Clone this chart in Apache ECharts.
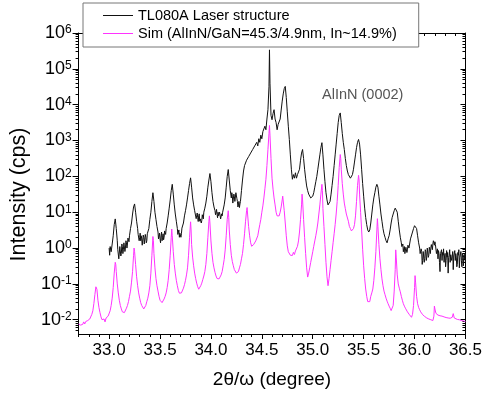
<!DOCTYPE html>
<html>
<head>
<meta charset="utf-8">
<script src="https://cdn.jsdelivr.net/npm/echarts@6/dist/echarts.min.js"></script>
<style>
  html, body { margin: 0; padding: 0; background: #fff; }
  #chart { width: 485px; height: 395px; }
</style>
</head>
<body>
<div id="chart"></div>
<script>
const FONT = 'Arial, "Liberation Sans", sans-serif';

const seriesNames = ['TL080A Laser structure', 'Sim (AlInN/GaN=45.3/4.9nm, In~14.9%)'];
const peakLabel = 'AlInN (0002)';
const xTitle = '2\u03b8/\u03c9 (degree)';
const yTitle = 'Intensity (cps)';

// x axis: 2θ/ω range and labelled ticks
const xRange = [32.7, 36.5];
const xMajorTicks = [33.0, 33.5, 34.0, 34.5, 35.0, 35.5, 36.0, 36.5];
// y axis: intensity range, decades and in-between log ticks
const yRange = [0.004, 1e6];
const yDecades = [0.01, 0.1, 1, 10, 100, 1000, 10000, 100000, 1000000];
const yMinorTicks = [
  0.005, 0.006, 0.007, 0.008, 0.009,
  0.02, 0.03, 0.04, 0.05, 0.06, 0.07, 0.08, 0.09,
  0.2, 0.3, 0.4, 0.5, 0.6, 0.7, 0.8, 0.9,
  2, 3, 4, 5, 6, 7, 8, 9,
  20, 30, 40, 50, 60, 70, 80, 90,
  200, 300, 400, 500, 600, 700, 800, 900,
  2000, 3000, 4000, 5000, 6000, 7000, 8000, 9000,
  20000, 30000, 40000, 50000, 60000, 70000, 80000, 90000,
  200000, 300000, 400000, 500000, 600000, 700000, 800000, 900000
];

// measured scan: [2θ/ω (deg), intensity (cps)]
const measured = [
  [33.00,1.0],[33.005,0.63],[33.01,1.1],[33.02,0.79],[33.03,1.3],[33.04,2.2],[33.05,4.5],[33.06,6.5],
  [33.07,3.5],[33.08,1.6],[33.085,0.9],[33.09,0.89],[33.095,0.5],[33.10,0.56],[33.105,1.1],[33.11,1.0],
  [33.115,0.6],[33.12,0.71],[33.125,1.3],[33.13,1.1],[33.135,0.7],[33.14,0.89],[33.145,1.4],[33.15,1.3],
  [33.155,0.8],[33.16,1.0],[33.165,1.6],[33.17,1.4],[33.175,1.0],[33.18,1.3],[33.185,1.9],[33.19,2.0],
  [33.195,1.5],[33.20,2.2],[33.21,3.5],[33.22,5.0],[33.23,8.9],[33.24,14],[33.25,17],[33.26,10],
  [33.27,5.6],[33.28,3.5],[33.285,2.4],[33.29,2.5],[33.295,1.6],[33.30,2.0],[33.305,2.6],[33.31,1.6],
  [33.315,2.2],[33.32,1.8],[33.325,1.2],[33.33,1.3],[33.335,2.3],[33.34,2.0],[33.345,1.3],[33.35,1.4],
  [33.355,2.4],[33.36,2.0],[33.365,1.4],[33.37,1.6],[33.375,2.5],[33.38,2.8],[33.39,3.5],[33.40,6.3],
  [33.41,10],[33.42,20],[33.43,35],[33.44,20],[33.45,10],[33.46,6.3],[33.47,4.0],[33.48,2.8],
  [33.485,1.8],[33.49,2.0],[33.495,2.6],[33.50,1.8],[33.505,1.4],[33.51,2.2],[33.515,2.8],[33.52,1.6],
  [33.525,2.0],[33.53,2.5],[33.535,1.7],[33.54,2.0],[33.545,3.0],[33.55,3.2],[33.555,2.4],[33.56,3.5],
  [33.57,5.0],[33.58,7.9],[33.59,13],[33.60,22],[33.61,40],[33.62,60],[33.63,32],[33.64,16],
  [33.65,8.9],[33.66,5.6],[33.67,3.5],[33.675,2.4],[33.68,2.5],[33.685,3.2],[33.69,2.0],[33.695,2.6],
  [33.70,2.8],[33.705,2.0],[33.71,2.5],[33.715,3.6],[33.72,4.0],[33.725,3.2],[33.73,5.0],[33.74,7.9],
  [33.75,11],[33.76,16],[33.77,25],[33.78,40],[33.79,63],[33.80,91],[33.81,50],[33.82,25],
  [33.83,16],[33.84,11],[33.85,10],[33.855,6.6],[33.86,7.9],[33.865,9.5],[33.87,7.1],[33.875,5.5],
  [33.88,7.9],[33.885,9.0],[33.89,5.6],[33.895,6.5],[33.90,7.1],[33.905,5.0],[33.91,5.8],[33.915,8.5],
  [33.92,7.9],[33.925,6.5],[33.93,10],[33.94,13],[33.95,18],[33.96,28],[33.97,50],[33.98,79],
  [33.99,120],[34.00,71],[34.01,35],[34.02,20],[34.03,14],[34.04,11],[34.045,8.5],[34.05,10],
  [34.055,12],[34.06,8.7],[34.065,7.0],[34.07,10],[34.075,8.0],[34.08,7.6],[34.085,10],[34.09,8.9],
  [34.095,6.5],[34.10,7.1],[34.105,9.0],[34.11,7.9],[34.115,10],[34.12,11],[34.13,16],[34.14,25],
  [34.15,50],[34.16,100],[34.17,155],[34.18,79],[34.19,40],[34.20,25],[34.205,35],[34.21,28],
  [34.215,18],[34.22,20],[34.225,32],[34.23,28],[34.235,20],[34.24,22],[34.245,35],[34.25,32],
  [34.255,24],[34.26,20],[34.265,14],[34.27,16],[34.275,20],[34.28,13.5],[34.285,17],[34.29,20],
  [34.30,40],[34.31,79],[34.32,141],[34.33,200],[34.34,178],[34.35,282],[34.36,251],[34.37,355],
  [34.38,316],[34.39,447],[34.40,398],[34.41,562],[34.42,501],[34.43,708],[34.44,631],[34.45,891],
  [34.46,708],[34.47,1122],[34.48,891],[34.49,1413],[34.50,1122],[34.51,1778],[34.52,1585],[34.53,2512],
  [34.54,1995],[34.55,3981],[34.56,7244],[34.57,31623],[34.575,338844],[34.58,39811],[34.59,5012],[34.60,3802],
  [34.61,5623],[34.62,7244],[34.63,3981],[34.64,3162],[34.65,1995],[34.66,2818],[34.67,2512],[34.68,3981],
  [34.69,7079],[34.70,12589],[34.71,19953],[34.72,28184],[34.73,32359],[34.74,15849],[34.75,6310],[34.76,2512],
  [34.77,1072],[34.78,398],[34.79,158],[34.80,83],[34.81,112],[34.82,89],[34.83,126],[34.84,89],
  [34.85,112],[34.86,100],[34.87,158],[34.88,282],[34.89,447],[34.90,562],[34.91,316],[34.92,158],
  [34.93,89],[34.94,54],[34.95,40],[34.96,32],[34.97,35],[34.98,25],[34.99,23],[35.00,28],
  [35.01,35],[35.02,50],[35.03,71],[35.04,100],[35.05,158],[35.06,251],[35.07,398],[35.08,631],
  [35.09,871],[35.10,398],[35.11,158],[35.12,71],[35.13,35],[35.14,22],[35.15,16],[35.16,15],
  [35.17,20],[35.18,32],[35.19,56],[35.20,100],[35.21,200],[35.22,398],[35.23,794],[35.24,1585],
  [35.25,3162],[35.26,5012],[35.27,5888],[35.28,3162],[35.29,1585],[35.30,891],[35.31,562],[35.32,316],
  [35.33,200],[35.34,141],[35.35,112],[35.36,100],[35.37,89],[35.38,91],[35.39,112],[35.40,158],
  [35.41,251],[35.42,398],[35.43,631],[35.44,891],[35.45,1072],[35.46,794],[35.47,398],[35.48,158],
  [35.49,63],[35.50,28],[35.51,13],[35.52,7.1],[35.53,4.5],[35.54,3.2],[35.55,2.8],[35.56,3.2],
  [35.57,5.0],[35.58,8.9],[35.59,16],[35.60,25],[35.61,35],[35.62,50],[35.63,60],[35.64,50],
  [35.65,28],[35.66,16],[35.67,8.9],[35.68,5.6],[35.69,3.5],[35.70,2.5],[35.71,2.0],[35.72,1.6],
  [35.73,1.4],[35.74,1.8],[35.75,2.2],[35.76,3.2],[35.77,5.0],[35.78,7.1],[35.79,8.9],[35.80,11],
  [35.81,13],[35.82,13.5],[35.83,10],[35.84,5.6],[35.85,3.2],[35.86,2.0],[35.87,1.4],[35.875,1.1],
  [35.88,1.0],[35.885,1.3],[35.89,0.79],[35.895,0.95],[35.90,1.1],[35.905,0.7],[35.91,0.71],[35.915,1.05],
  [35.92,1.0],[35.925,0.75],[35.93,0.89],[35.935,1.2],[35.94,1.3],[35.945,1.0],[35.95,1.1],[35.96,1.8],
  [35.97,2.0],[35.98,2.8],[35.99,3.5],[36.00,4.2],[36.01,4.7],[36.02,3.5],[36.03,2.2],[36.04,1.4],
  [36.05,1.0],[36.055,0.7],[36.06,0.63],[36.065,0.95],[36.07,0.79],[36.075,0.35],[36.08,0.45],[36.085,0.8],
  [36.09,0.71],[36.095,0.4],[36.10,0.5],[36.105,0.9],[36.11,0.79],[36.115,0.45],[36.12,0.56],[36.125,1.0],
  [36.13,0.89],[36.135,0.55],[36.14,0.63],[36.145,1.05],[36.15,0.89],[36.155,0.7],[36.16,1.0],[36.165,1.25],
  [36.17,1.1],[36.175,0.9],[36.18,1.3],[36.185,1.6],[36.19,1.4],[36.195,1.2],[36.20,1.5],[36.205,1.25],
  [36.21,1.1],[36.215,0.7],[36.22,0.79],[36.225,0.95],[36.23,0.5],[36.235,0.85],[36.24,0.71],[36.245,0.4],
  [36.25,0.22],[36.255,0.7],[36.26,0.63],[36.265,0.9],[36.27,0.45],[36.275,0.75],[36.28,0.63],[36.285,0.95],
  [36.29,0.4],[36.295,0.6],[36.30,0.71],[36.305,0.3],[36.31,0.45],[36.315,0.85],[36.32,0.56],[36.325,0.75],
  [36.33,0.2],[36.335,0.55],[36.34,0.63],[36.345,0.9],[36.35,0.4],[36.355,0.65],[36.36,0.71],[36.365,0.45],
  [36.37,0.5],[36.375,0.8],[36.38,0.25],[36.385,0.6],[36.39,0.63],[36.395,0.85],[36.40,0.45],[36.405,0.7],
  [36.41,0.56],[36.415,0.3],[36.42,0.35],[36.425,0.75],[36.43,0.63],[36.435,0.9],[36.44,0.28],[36.445,0.55],
  [36.45,0.5],[36.455,0.8],[36.46,0.45],[36.465,0.3],[36.47,0.71],[36.475,0.55],[36.48,0.32],[36.485,0.65],
  [36.49,0.5],[36.495,0.7],[36.50,0.4]
];

// simulated profile: [2θ/ω (deg), intensity (cps)]
const simulated = [
  [32.70,0.0076],[32.71,0.0083],[32.72,0.0071],[32.73,0.0079],[32.74,0.0074],[32.75,0.0087],[32.76,0.0076],[32.77,0.0089],
  [32.78,0.0079],[32.79,0.0095],[32.80,0.0085],[32.81,0.0105],[32.82,0.0112],[32.83,0.0141],[32.84,0.0178],[32.85,0.0282],
  [32.86,0.050],[32.87,0.083],[32.875,0.089],[32.88,0.071],[32.89,0.035],[32.90,0.022],[32.91,0.0158],[32.92,0.012],
  [32.93,0.010],[32.94,0.0089],[32.95,0.0105],[32.96,0.0087],[32.97,0.0112],[32.98,0.010],[32.99,0.0126],[33.00,0.0141],
  [33.01,0.0178],[33.02,0.025],[33.03,0.040],[33.04,0.079],[33.05,0.20],[33.06,0.40],[33.065,0.35],[33.07,0.22],
  [33.08,0.10],[33.09,0.056],[33.10,0.035],[33.11,0.025],[33.12,0.020],[33.13,0.0166],[33.14,0.0148],[33.15,0.0158],
  [33.16,0.0178],[33.17,0.021],[33.18,0.025],[33.19,0.032],[33.20,0.045],[33.21,0.063],[33.22,0.112],[33.23,0.22],
  [33.24,0.63],[33.245,1.0],[33.25,0.79],[33.26,0.35],[33.27,0.158],[33.28,0.089],[33.29,0.056],[33.30,0.040],
  [33.31,0.030],[33.32,0.025],[33.33,0.022],[33.34,0.020],[33.35,0.022],[33.36,0.025],[33.37,0.032],[33.38,0.040],
  [33.39,0.056],[33.40,0.089],[33.41,0.20],[33.42,0.63],[33.43,2.1],[33.435,1.6],[33.44,0.71],[33.45,0.28],
  [33.46,0.141],[33.47,0.089],[33.48,0.063],[33.49,0.045],[33.50,0.035],[33.51,0.032],[33.52,0.030],[33.53,0.033],
  [33.54,0.038],[33.55,0.045],[33.56,0.056],[33.57,0.079],[33.58,0.126],[33.59,0.25],[33.60,0.63],[33.61,2.0],
  [33.615,3.4],[33.62,2.2],[33.63,0.79],[33.64,0.35],[33.65,0.20],[33.66,0.126],[33.67,0.089],[33.68,0.066],
  [33.69,0.055],[33.70,0.050],[33.71,0.056],[33.72,0.063],[33.73,0.076],[33.74,0.095],[33.75,0.126],[33.76,0.178],
  [33.77,0.28],[33.78,0.63],[33.79,2.0],[33.80,5.4],[33.805,3.2],[33.81,1.26],[33.82,0.56],[33.83,0.32],
  [33.84,0.20],[33.85,0.141],[33.86,0.105],[33.87,0.083],[33.88,0.071],[33.89,0.079],[33.90,0.089],[33.91,0.105],
  [33.92,0.132],[33.93,0.166],[33.94,0.22],[33.95,0.35],[33.96,0.71],[33.97,2.0],[33.98,5.6],[33.985,7.9],
  [33.99,5.0],[34.00,1.58],[34.01,0.71],[34.02,0.40],[34.03,0.28],[34.04,0.21],[34.05,0.166],[34.06,0.141],
  [34.07,0.126],[34.08,0.138],[34.09,0.151],[34.10,0.178],[34.11,0.22],[34.12,0.32],[34.13,0.48],[34.14,0.89],
  [34.15,2.2],[34.16,6.3],[34.17,11],[34.175,7.1],[34.18,3.2],[34.19,1.26],[34.20,0.63],[34.21,0.42],
  [34.22,0.32],[34.23,0.25],[34.24,0.22],[34.25,0.20],[34.26,0.19],[34.27,0.22],[34.28,0.28],[34.29,0.35],
  [34.30,0.50],[34.31,0.71],[34.32,1.26],[34.33,2.5],[34.34,5.6],[34.35,11],[34.355,13.5],[34.36,8.9],
  [34.37,4.0],[34.38,2.2],[34.39,1.4],[34.40,1.12],[34.41,1.0],[34.42,1.26],[34.43,1.12],[34.44,1.58],
  [34.45,1.78],[34.46,2.2],[34.47,3.2],[34.48,4.5],[34.49,6.3],[34.50,10],[34.51,15],[34.52,25],
  [34.53,45],[34.54,83],[34.55,200],[34.56,562],[34.57,1585],[34.575,2630],[34.58,1413],[34.59,316],
  [34.60,89],[34.61,44],[34.62,25],[34.63,16],[34.64,10],[34.65,7.9],[34.66,7.1],[34.67,7.9],
  [34.68,10],[34.69,14],[34.70,22],[34.705,28],[34.71,25],[34.72,11],[34.73,5.0],[34.74,2.2],
  [34.75,1.15],[34.76,0.79],[34.77,0.71],[34.78,0.63],[34.79,0.71],[34.80,0.62],[34.81,0.76],[34.82,0.66],
  [34.83,0.83],[34.84,0.89],[34.85,1.12],[34.86,1.58],[34.87,2.8],[34.88,6.3],[34.89,16],[34.895,32],
  [34.90,22],[34.91,6.3],[34.92,2.0],[34.93,0.71],[34.94,0.28],[34.95,0.155],[34.96,0.20],[34.97,0.28],
  [34.98,0.40],[34.99,0.56],[35.00,0.79],[35.01,1.12],[35.02,1.58],[35.03,2.2],[35.04,3.2],[35.05,5.0],
  [35.06,8.9],[35.07,16],[35.08,32],[35.09,60],[35.095,40],[35.10,12.6],[35.11,4.0],[35.12,1.26],
  [35.13,0.40],[35.14,0.158],[35.15,0.089],[35.16,0.141],[35.17,0.25],[35.18,0.45],[35.19,0.79],[35.20,1.41],
  [35.21,2.5],[35.22,4.5],[35.23,8.9],[35.24,20],[35.25,56],[35.26,178],[35.27,407],[35.275,316],
  [35.28,158],[35.29,63],[35.30,32],[35.31,18],[35.32,12.6],[35.33,8.9],[35.34,7.9],[35.35,5.6],
  [35.36,4.0],[35.37,3.5],[35.38,3.0],[35.39,2.8],[35.40,3.5],[35.41,4.5],[35.42,7.9],[35.43,20],
  [35.44,56],[35.45,107],[35.455,79],[35.46,32],[35.47,10],[35.48,3.2],[35.49,0.93],[35.50,0.32],
  [35.51,0.141],[35.52,0.072],[35.53,0.045],[35.54,0.032],[35.55,0.035],[35.56,0.032],[35.57,0.045],[35.58,0.056],
  [35.59,0.072],[35.60,0.126],[35.61,0.28],[35.62,0.79],[35.63,3.2],[35.635,6.6],[35.64,4.0],[35.65,1.26],
  [35.66,0.50],[35.67,0.25],[35.68,0.138],[35.69,0.089],[35.70,0.063],[35.71,0.050],[35.72,0.040],[35.73,0.033],
  [35.74,0.028],[35.75,0.024],[35.76,0.021],[35.77,0.018],[35.78,0.0162],[35.79,0.025],[35.80,0.063],[35.81,0.25],
  [35.815,0.89],[35.82,0.56],[35.83,0.178],[35.84,0.10],[35.85,0.076],[35.86,0.060],[35.87,0.045],[35.88,0.035],
  [35.89,0.028],[35.90,0.024],[35.91,0.021],[35.92,0.0186],[35.93,0.0166],[35.94,0.0151],[35.95,0.0138],[35.96,0.0126],
  [35.97,0.0117],[35.98,0.0141],[35.99,0.025],[36.00,0.079],[36.005,0.17],[36.01,0.112],[36.02,0.045],[36.03,0.028],
  [36.04,0.022],[36.05,0.019],[36.06,0.0166],[36.07,0.0151],[36.08,0.0138],[36.09,0.0129],[36.10,0.0123],[36.11,0.0117],
  [36.12,0.0112],[36.13,0.011],[36.14,0.0105],[36.15,0.0107],[36.16,0.010],[36.17,0.010],[36.18,0.0095],[36.19,0.0126],
  [36.195,0.024],[36.20,0.020],[36.21,0.0151],[36.22,0.0138],[36.23,0.0135],[36.24,0.0132],[36.25,0.0129],[36.26,0.0126],
  [36.27,0.0126],[36.28,0.0123],[36.29,0.012],[36.30,0.0117],[36.31,0.0115],[36.32,0.0115],[36.33,0.0112],[36.34,0.011],
  [36.35,0.011],[36.36,0.0107],[36.37,0.0117],[36.38,0.0148],[36.39,0.0112],[36.40,0.0105],[36.42,0.0102],[36.44,0.010],
  [36.46,0.0095],[36.48,0.0093],[36.50,0.0089]
];

const AXIS_COLOR = '#000';
const lineStyle = { color: AXIS_COLOR, width: 1 };

function decadeLabel(v) {
  const e = Math.log10(v);
  const n = Math.round(e);
  if (Math.abs(e - n) > 1e-6) return '';
  return '{b|10}{s|' + n + '}';
}

// four y axes sharing one log scale: left major/minor, right major/minor
function yAxisDef(position, ticks, tickLen, inside, showLine, extra) {
  return Object.assign({
    type: 'log', logBase: 10, min: yRange[0], max: yRange[1], position: position,
    axisLine: { show: showLine, onZero: false, lineStyle: lineStyle },
    axisTick: { show: true, customValues: ticks, length: tickLen, inside: inside, lineStyle: lineStyle },
    axisLabel: { show: false },
    splitLine: { show: false }, minorTick: { show: false }
  }, extra || {});
}

// four x axes sharing one scale: bottom major/minor, top major/minor
function xAxisDef(position, tickOpt, tickLen, inside, showLine, extra) {
  return Object.assign({
    type: 'value', min: xRange[0], max: xRange[1], position: position,
    axisLine: { show: showLine, onZero: false, lineStyle: lineStyle },
    axisTick: Object.assign({ show: true, length: tickLen, inside: inside, lineStyle: lineStyle }, tickOpt),
    axisLabel: { show: false },
    splitLine: { show: false }
  }, extra || {});
}

const chart = echarts.init(document.getElementById('chart'), null, { renderer: 'canvas' });

chart.setOption({
  animation: false,
  backgroundColor: '#fff',
  textStyle: { fontFamily: FONT },
  grid: { left: 74, right: 18, top: 33, bottom: 61, containLabel: false },
  xAxis: [
    xAxisDef('bottom', { customValues: xMajorTicks }, 5, false, true, {
      axisLabel: {
        show: true, customValues: xMajorTicks, margin: 8,
        fontSize: 17, color: '#000', fontFamily: FONT,
        formatter: function (v) { return v.toFixed(1); }
      },
      name: xTitle, nameLocation: 'middle', nameGap: 36,
      nameTextStyle: { fontSize: 19, color: '#000', fontFamily: FONT }
    }),
    xAxisDef('bottom', {}, 3, false, false, { interval: 0.1 }),
    xAxisDef('top', { customValues: xMajorTicks }, 5, true, true),
    xAxisDef('top', {}, 3, true, false, { interval: 0.1 })
  ],
  yAxis: [
    yAxisDef('left', yDecades, 6, false, true, {
      axisLabel: {
        show: true, customValues: yDecades, margin: 7, formatter: decadeLabel,
        rich: {
          b: { fontSize: 18, fontFamily: FONT, color: '#000', lineHeight: 18 },
          s: { fontSize: 12, fontFamily: FONT, color: '#000', verticalAlign: 'top', lineHeight: 12, padding: [0, 0, 6, 0] }
        }
      },
      name: yTitle, nameLocation: 'middle', nameGap: 45,
      nameTextStyle: { fontSize: 21.5, color: '#000', fontFamily: FONT, padding: [0, 22, 0, 0] }
    }),
    yAxisDef('left', yMinorTicks, 3, false, false),
    yAxisDef('right', yDecades, 5, true, true),
    yAxisDef('right', yMinorTicks, 3, true, false)
  ],
  legend: {
    data: seriesNames,
    orient: 'vertical',
    left: 83, top: 3,
    padding: [5, 22, 6, 20],
    itemGap: 3, itemWidth: 30, itemHeight: 1,
    icon: 'rect',
    backgroundColor: '#fff', borderColor: '#777', borderWidth: 1, borderRadius: 0,
    textStyle: { fontSize: 14.5, color: '#000', fontFamily: FONT, padding: [0, 0, 0, 0] },
    z: 10
  },
  graphic: [{
    type: 'text', left: 322, top: 87, z: 5,
    style: { text: peakLabel, fontSize: 14.5, fontFamily: FONT, fill: '#555' }
  }],
  series: [
    {
      name: seriesNames[1], type: 'line', data: simulated,
      xAxisIndex: 0, yAxisIndex: 0,
      symbol: 'none', showSymbol: false, sampling: null,
      lineStyle: { color: '#ff33ff', width: 1 }, itemStyle: { color: '#ff33ff' },
      z: 2
    },
    {
      name: seriesNames[0], type: 'line', data: measured,
      xAxisIndex: 0, yAxisIndex: 0,
      symbol: 'none', showSymbol: false, sampling: null,
      lineStyle: { color: '#111', width: 1 }, itemStyle: { color: '#111' },
      z: 3
    }
  ]
});
</script>
</body>
</html>
